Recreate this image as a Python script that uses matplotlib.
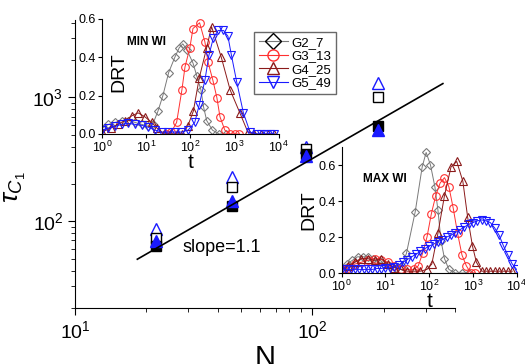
import numpy as np
import matplotlib.pyplot as plt

# main plot data
N = [22, 46, 94, 190]
tau_open_tri = [86, 226, 400, 1310]
tau_open_sq = [73, 190, 380, 1000]
tau_fill_tri = [69, 146, 335, 540]
tau_fill_sq = [63, 132, 350, 590]
N_fit = [18.3, 355]
slope = 1.1
amp = 2.02

# MIN WI inset (log10 t, DRT)
min_g2_lt = [0, .15, .3, .45, .6, .75, .9, 1.05, 1.15, 1.27, 1.38, 1.51, 1.65, 1.75, 1.83, 1.92, 2.06, 2.15, 2.24, 2.3, 2.37, 2.5, 2.65, 2.8]
min_g2 = [.03, .05, .06, .07, .07, .06, .05, .04, .05, .12, .20, .32, .40, .45, .47, .44, .37, .30, .23, .14, .07, .02, 0, 0]
min_g3_lt = [1.45, 1.57, 1.69, 1.81, 1.88, 1.99, 2.06, 2.21, 2.33, 2.4, 2.51, 2.6, 2.67, 2.78, 2.9, 3.0, 3.1]
min_g3 = [0, .01, .06, .23, .35, .45, .55, .58, .48, .375, .28, .19, .09, .02, 0, 0, 0]
min_g4_lt = [0, .2, .36, .52, .68, .82, .97, 1.13, 1.25, 1.4, 1.55, 1.7, 1.82, 1.94, 2.07, 2.2, 2.37, 2.48, 2.7, 2.9, 3.12, 3.3, 3.45, 3.6, 3.75, 3.9]
min_g4 = [.01, .03, .05, .07, .095, .11, .09, .06, .03, 0, 0, 0, 0, .04, .12, .29, .45, .56, .40, .23, .11, .01, 0, 0, 0, 0]
min_g5_lt = [0, .15, .3, .45, .6, .75, .9, 1.05, 1.2, 1.35, 1.5, 1.65, 1.8, 1.95, 2.1, 2.2, 2.33, 2.42, 2.52, 2.63, 2.75, 2.85, 2.93, 3.05, 3.2, 3.35, 3.5, 3.6, 3.7, 3.8, 3.9]
min_g5 = [.02, .03, .04, .05, .055, .05, .045, .035, .02, .01, .01, .01, .01, .02, .06, .15, .28, .41, .50, .54, .54, .51, .41, .27, .11, .01, 0, 0, 0, 0, 0]

# MAX WI inset (log10 t, DRT)
max_g2_lt = [0, .12, .24, .36, .48, .6, .72, .84, .96, 1.1, 1.25, 1.38, 1.48, 1.68, 1.84, 1.93, 2.03, 2.13, 2.2, 2.27, 2.35, 2.45, 2.6, 2.75, 2.9]
max_g2 = [.03, .05, .07, .09, .09, .09, .08, .06, .05, .04, .03, .04, .11, .34, .59, .67, .60, .48, .35, .18, .08, .02, 0, 0, 0]
max_g3_lt = [0, .15, .3, .45, .6, .75, .9, 1.05, 1.2, 1.35, 1.5, 1.65, 1.75, 1.85, 1.95, 2.05, 2.15, 2.25, 2.35, 2.45, 2.55, 2.65, 2.75, 2.85, 2.95, 3.05]
max_g3 = [.02, .03, .05, .06, .07, .08, .075, .06, .04, .02, .02, .02, .04, .11, .20, .33, .43, .50, .53, .48, .36, .22, .10, .04, 0, 0]
max_g4_lt = [0, .15, .3, .45, .6, .75, .9, 1.05, 1.2, 1.35, 1.5, 1.65, 1.8, 1.95, 2.06, 2.2, 2.35, 2.5, 2.63, 2.77, 2.88, 2.99, 3.08, 3.2, 3.3, 3.4, 3.5, 3.6, 3.7, 3.8, 3.9]
max_g4 = [.02, .04, .06, .08, .08, .07, .08, .05, .03, .02, .01, .01, .01, .02, .05, .22, .43, .59, .62, .51, .31, .15, .06, .01, .01, .01, .01, .01, .01, .01, .01]
max_g5_lt = [0, .1, .2, .3, .4, .5, .6, .7, .8, .9, 1.0, 1.1, 1.2, 1.3, 1.4, 1.5, 1.6, 1.7, 1.8, 1.9, 2.0, 2.1, 2.2, 2.3, 2.4, 2.5, 2.6, 2.7, 2.8, 2.9, 3.0, 3.1, 3.2, 3.3, 3.4, 3.5, 3.6, 3.7, 3.8, 3.9, 4.0]
max_g5 = [.02, .02, .02, .02, .02, .02, .02, .02, .025, .025, .03, .03, .035, .045, .06, .075, .09, .105, .12, .135, .15, .16, .175, .185, .20, .21, .225, .24, .255, .27, .28, .29, .295, .29, .28, .25, .21, .15, .10, .05, .02]

labels = ['G2_7', 'G3_13', 'G4_25', 'G5_49']
colors = ['#7a7a7a', '#ff3030', '#8b1a1a', '#1a1aff']
markers = ['D', 'o', '^', 'v']
msizes = [4.5, 5.5, 6, 6]

plt.rcParams['font.family'] = ['Liberation Sans', 'DejaVu Sans']
plt.rcParams['mathtext.fontset'] = 'custom'
plt.rcParams['mathtext.rm'] = 'Liberation Sans'
plt.rcParams['mathtext.it'] = 'Liberation Sans:italic'
fig = plt.figure(figsize=(5.25, 3.64), dpi=100)

# main axes
ax = fig.add_axes([0.143, 0.154, 0.724, 0.791])
ax.set_xscale('log')
ax.set_yscale('log')
ax.plot(N, tau_open_tri, '^', ms=8, mfc='white', mec='#1a1aff', mew=1.0, ls='none')
ax.plot(N, tau_open_sq, 's', ms=7, mfc='white', mec='black', mew=1.0, ls='none')
ax.plot(N, tau_fill_sq, 's', ms=7, color='black', ls='none')
ax.plot(N, tau_fill_tri, '^', ms=8, color='#1a1aff', ls='none')
nf = np.array(N_fit)
ax.plot(nf, amp * nf ** slope, color='black', lw=1.2)
ax.text(28.3, 62, 'slope=1.1', fontsize=13, va='center')
ax.set_xlim(10, 400)
ax.set_ylim(20, 4200)
for s in ['top', 'right']:
    ax.spines[s].set_visible(False)
ax.tick_params(which='major', length=5, labelsize=14, direction='out')
ax.tick_params(which='minor', length=3, direction='out')
ax.yaxis.set_minor_formatter(plt.NullFormatter())
ax.xaxis.set_minor_formatter(plt.NullFormatter())
ax.set_xlabel('N', fontsize=21, labelpad=2)
ax.set_ylabel(r'$\tau_{C_1}$', fontsize=19)
ax.yaxis.set_label_coords(-0.125, 0.42)


def inset(rect, series, ylim, title, tx, ty, drt_inside):
    a = fig.add_axes(rect)
    a.patch.set_alpha(0)
    for (lt, v), c, m, ms in zip(series, colors, markers, msizes):
        a.plot(10 ** np.array(lt), v, marker=m, ms=ms, mfc='none', mec=c, mew=0.8,
               color=c, lw=0.7)
    a.set_xscale('log')
    a.set_xlim(1, 1e4)
    a.set_ylim(*ylim)
    a.set_yticks([0, 0.2, 0.4, 0.6])
    a.set_yticklabels(['0.0', '0.2', '0.4', '0.6'])
    a.set_xticks([1, 10, 100, 1000, 10000])
    for s in ['top', 'right']:
        a.spines[s].set_visible(False)
    a.tick_params(which='major', labelsize=9, length=3, pad=1)
    a.tick_params(which='minor', length=1.5)
    a.xaxis.set_minor_formatter(plt.NullFormatter())
    a.set_xlabel('t', fontsize=15, labelpad=-1)
    if drt_inside:
        a.text(0.05, 0.54, 'DRT', transform=a.transAxes, rotation=90,
               fontsize=14, va='center', ha='left')
    else:
        a.set_ylabel('DRT', fontsize=14, labelpad=1)
    a.text(tx, ty, title, transform=a.transAxes, fontsize=8.5, fontweight='bold')
    return a


inset([0.194, 0.632, 0.337, 0.316],
      [(min_g2_lt, min_g2), (min_g3_lt, min_g3), (min_g4_lt, min_g4), (min_g5_lt, min_g5)],
      (0, 0.6), 'MIN WI', 0.14, 0.77, True)
inset([0.651, 0.25, 0.333, 0.346],
      [(max_g2_lt, max_g2), (max_g3_lt, max_g3), (max_g4_lt, max_g4), (max_g5_lt, max_g5)],
      (0, 0.7), 'MAX WI', 0.12, 0.72, False)

handles = [plt.Line2D([], [], color=c, marker=m, ms=8, mfc='none', mec=(c if m != 'D' else 'black'),
                      mew=1.0, lw=0.8) for c, m in zip(colors, markers)]
fig.legend(handles, labels, loc='upper left', bbox_to_anchor=(254 / 525, 1 - 32 / 364),
           fontsize=9.5, frameon=True, fancybox=False, edgecolor='#444444',
           handlelength=2.2, labelspacing=0.1, borderpad=0.35, handletextpad=0.3,
           borderaxespad=0)

fig.savefig('out.png', dpi=100)
